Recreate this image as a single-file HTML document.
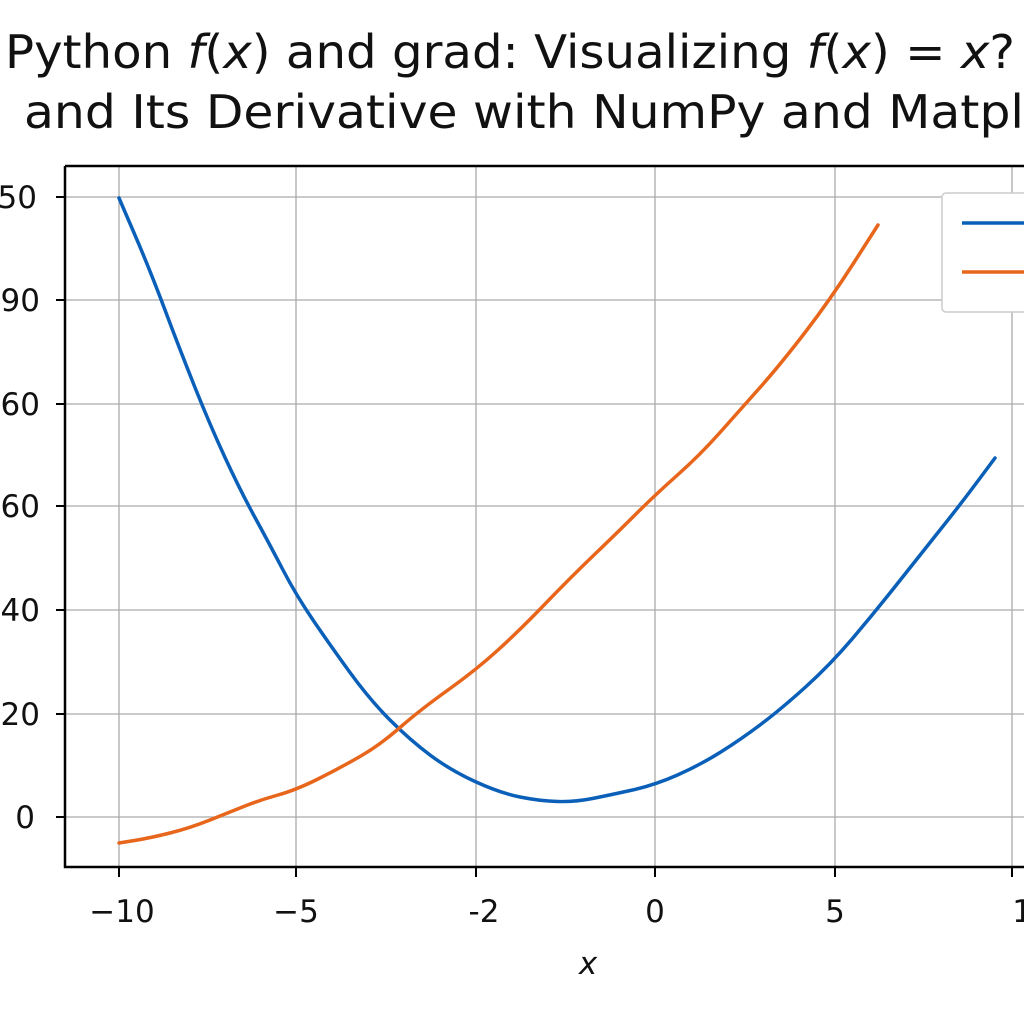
<!DOCTYPE html>
<html><head><meta charset="utf-8"><style>body{margin:0;background:#fff}</style></head><body>
<svg width="1024" height="1024" xmlns="http://www.w3.org/2000/svg" font-family="DejaVu Sans, Liberation Sans, sans-serif">
<rect width="1024" height="1024" fill="#fff"/>
<text x="510" y="68" font-size="46" text-anchor="middle" fill="#111" textLength="1010" lengthAdjust="spacingAndGlyphs">Python <tspan font-style="italic">f</tspan>(<tspan font-style="italic">x</tspan>) and grad: Visualizing <tspan font-style="italic">f</tspan>(<tspan font-style="italic">x</tspan>) = <tspan font-style="italic">x</tspan>?</text>
<text x="524" y="128" font-size="46" text-anchor="middle" fill="#111" textLength="1000" lengthAdjust="spacingAndGlyphs">and Its Derivative with NumPy and Matpl</text>
<g stroke="#aaa" stroke-width="1.3">
<line x1="119" y1="166" x2="119" y2="867"/><line x1="296" y1="166" x2="296" y2="867"/><line x1="476" y1="166" x2="476" y2="867"/><line x1="655" y1="166" x2="655" y2="867"/><line x1="835" y1="166" x2="835" y2="867"/><line x1="1012" y1="166" x2="1012" y2="867"/>
<line x1="65" y1="197" x2="1024" y2="197"/><line x1="65" y1="300" x2="1024" y2="300"/><line x1="65" y1="404" x2="1024" y2="404"/><line x1="65" y1="506" x2="1024" y2="506"/><line x1="65" y1="610" x2="1024" y2="610"/><line x1="65" y1="714" x2="1024" y2="714"/><line x1="65" y1="817" x2="1024" y2="817"/>
</g>
<path d="M65 166H1024M65 166V867H1024" fill="none" stroke="#000" stroke-width="2.5"/>
<g stroke="#000" stroke-width="2">
<line x1="119" y1="867" x2="119" y2="877"/><line x1="296" y1="867" x2="296" y2="877"/><line x1="476" y1="867" x2="476" y2="877"/><line x1="655" y1="867" x2="655" y2="877"/><line x1="835" y1="867" x2="835" y2="877"/><line x1="1012" y1="867" x2="1012" y2="877"/>
<line x1="56" y1="197" x2="65" y2="197"/><line x1="56" y1="300" x2="65" y2="300"/><line x1="56" y1="404" x2="65" y2="404"/><line x1="56" y1="506" x2="65" y2="506"/><line x1="56" y1="610" x2="65" y2="610"/><line x1="56" y1="714" x2="65" y2="714"/><line x1="56" y1="817" x2="65" y2="817"/>
</g>
<g font-size="31" fill="#111" text-anchor="end">
<text x="37" y="208">50</text><text x="40" y="311">90</text><text x="40" y="415">60</text><text x="40" y="517">60</text><text x="40" y="621">40</text><text x="40" y="725">20</text><text x="35" y="828">0</text>
</g>
<g font-size="31" fill="#111" text-anchor="middle">
<text x="122" y="922">−10</text><text x="296" y="922">−5</text><text x="484" y="922">-2</text><text x="655" y="922">0</text><text x="835" y="922">5</text><text x="1032" y="922">10</text>
<text x="588" y="974" font-style="italic">x</text>
</g>
<path d="M119 198 L134.5 234 Q150 270 165 310 Q180 350 195 387.5 Q210 425 225 457.5 Q240 490 255 517.5 Q270 545 283 570 Q296 595 313 620 Q330 645 350 672.5 Q370 700 390 720 Q410 740 430 755 Q450 770 475 781.5 Q500 793 520 797 Q540 801 557.5 801.5 Q575 802 592.5 798.5 Q610 795 632.5 790 Q655 785 677.5 775 Q700 765 720 752.5 Q740 740 760 725 Q780 710 805 687.5 Q830 665 852.5 638.5 Q875 612 897.5 583.5 Q920 555 940 530 Q960 505 977.5 481.5 L995 458" fill="none" stroke="#0a60b8" stroke-width="3.5" stroke-linejoin="round" stroke-linecap="round"/>
<path d="M119 843 L134.5 840.5 Q150 838 170 833 Q190 828 210 820 Q230 812 245 806 Q260 800 278 795 Q296 790 318 779 Q340 768 360 756.5 Q380 745 400 727.5 Q420 710 448 690 Q476 670 498 650 Q520 630 545 604 Q570 578 595 554 Q620 530 637.5 512.5 Q655 495 677.5 475 Q700 455 720 432.5 Q740 410 760 387.5 Q780 365 805 332.5 Q830 300 854 262.5 L878 225" fill="none" stroke="#e8661c" stroke-width="3.5" stroke-linejoin="round" stroke-linecap="round"/>
<rect x="942" y="193" width="100" height="119" rx="4" fill="#fff" stroke="#ccc" stroke-width="1.5"/>
<line x1="962" y1="223" x2="1024" y2="223" stroke="#0a60b8" stroke-width="3.5"/>
<line x1="962" y1="272" x2="1024" y2="272" stroke="#e8661c" stroke-width="3.5"/>
</svg>
</body></html>
